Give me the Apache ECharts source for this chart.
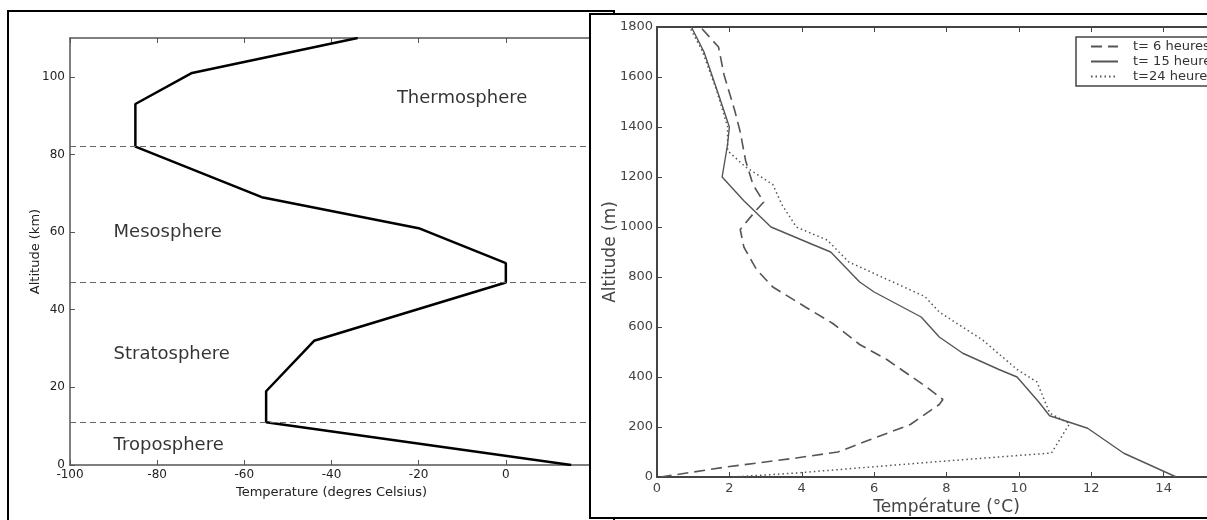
<!DOCTYPE html>
<html>
<head>
<meta charset="utf-8">
<title>Profils de température</title>
<script src="https://cdn.jsdelivr.net/npm/echarts@6/dist/echarts.min.js"></script>
<style>
  html, body { margin: 0; padding: 0; width: 1207px; height: 520px; overflow: hidden; background: #fff; }
  #leftBox { position: absolute; left: 7px; top: 10px; width: 604px; height: 540px; border: 2px solid #000; }
  #left { position: absolute; left: 0; top: 0; width: 600px; height: 520px; }
  #rightBox { position: absolute; left: 589px; top: 13px; width: 660px; height: 502px; border: 2px solid #000; background: #fff; z-index: 2; }
  #right { position: absolute; left: 0; top: 0; width: 660px; height: 502px; }
</style>
</head>
<body>
<div id="leftBox"></div>
<div id="left"></div>
<div id="rightBox"><div id="right"></div></div>
<script>
// --- profil standard de l'atmosphère (gauche)
const atmTemp = [15, -55, -55, -44, 0, 0, -20, -56, -85, -85, -72, -34];
const atmAlt = [0, 11, 19, 32, 47, 52, 61, 69, 82, 93, 101, 110];
const layerBounds = [11, 47, 82];
const layerNames = ["Troposphere", "Stratosphere", "Mesosphere", "Thermosphere"];
const layerLabelTemp = [-90, -90, -90, -25];
const layerLabelAlt = [5, 28.5, 60, 94.5];

// --- profils de la couche limite (droite)
const seriesNames = ["t= 6 heures", "t= 15 heures", "t=24 heures"];
const temp6h = [0.1, 1.9, 3.85, 5.0, 5.9, 7.0, 7.8, 7.9, 7.45, 6.35, 5.6, 4.85, 4.1, 3.2, 2.75, 2.4, 2.3, 2.7, 2.95, 2.65, 2.45, 2.3, 2.15, 1.85, 1.7, 1.2];
const alt6h = [0, 40, 76, 100, 150, 210, 290, 310, 360, 470, 530, 615, 680, 760, 830, 920, 990, 1060, 1100, 1170, 1265, 1380, 1465, 1610, 1720, 1800];
const temp15h = [14.35, 12.9, 11.9, 10.85, 10.55, 9.95, 9.45, 8.45, 7.8, 7.3, 6.0, 5.6, 4.8, 4.3, 3.15, 2.4, 1.8, 1.95, 2.0, 1.7, 1.3, 0.95];
const alt15h = [0, 95, 195, 245, 300, 400, 430, 495, 560, 640, 740, 780, 900, 930, 1000, 1105, 1200, 1330, 1400, 1530, 1700, 1800];
const temp24h = [2.1, 3.85, 7.8, 10.9, 11.4, 10.85, 10.5, 9.95, 9.0, 7.8, 7.4, 5.3, 4.7, 3.85, 3.45, 3.2, 2.45, 1.95, 1.95, 1.85, 1.65, 1.25, 0.9];
const alt24h = [0, 16, 62, 96, 213, 256, 380, 430, 548, 660, 722, 860, 948, 1000, 1090, 1170, 1240, 1305, 1400, 1450, 1545, 1705, 1800];

const FONT = "DejaVu Sans";
const pairs = (xs, ys) => xs.map((x, i) => [x, ys[i]]);

function frameAxis(color, width, extra) {
	return Object.assign({
		type: "value",
		nameMoveOverlap: false,
		splitLine: { show: false },
		axisLine: { show: true, onZero: false, lineStyle: { color: color, width: width } },
		axisTick: { show: true, inside: true, length: 5, lineStyle: { color: color, width: 1 } }
	}, extra);
}

// gauche
const left = echarts.init(document.getElementById("left"));
left.setOption({
	animation: false,
	grid: { left: 70, top: 38, width: 523, height: 427, outerBoundsMode: "none" },
	xAxis: [
		frameAxis("#555", 1.5, {
			min: -100, max: 20, interval: 20,
			name: "Temperature (degres Celsius)", nameLocation: "middle", nameGap: 21,
			nameTextStyle: { fontFamily: FONT, fontSize: 13, color: "#222" },
			axisLabel: { fontFamily: FONT, fontSize: 12, color: "#222", margin: 4, showMaxLabel: false }
		}),
		frameAxis("#555", 1.5, { position: "top", min: -100, max: 20, interval: 20, axisLabel: { show: false } })
	],
	yAxis: frameAxis("#555", 1.5, {
		min: 0, max: 110, interval: 20,
		name: "Altitude (km)", nameLocation: "middle", nameGap: 28,
		nameTextStyle: { fontFamily: FONT, fontSize: 13, color: "#222" },
		axisLabel: { fontFamily: FONT, fontSize: 12, color: "#222", margin: 5, showMaxLabel: false }
	}),
	series: [
		{
			type: "line",
			data: pairs(atmTemp, atmAlt),
			symbol: "none",
			lineStyle: { color: "#000", width: 2.5 },
			markLine: {
				silent: true,
				symbol: "none",
				label: { show: false },
				lineStyle: { color: "#666", width: 1, type: [6, 4] },
				data: layerBounds.map(v => ({ yAxis: v }))
			}
		},
		{
			type: "scatter",
			symbolSize: 0,
			data: layerNames.map((n, i) => ({ name: n, value: [layerLabelTemp[i], layerLabelAlt[i]] })),
			label: {
				show: true, position: "right", distance: 0,
				formatter: p => p.name,
				fontFamily: FONT, fontSize: 18, color: "#000"
			}
		}
	]
});

// droite
const right = echarts.init(document.getElementById("right"));
const lineColor = "#555";
right.setOption({
	animation: false,
	color: [lineColor, lineColor, lineColor],
	grid: { left: 66, top: 12, width: 579, height: 450, outerBoundsMode: "none" },
	legend: {
		orient: "vertical",
		left: 485, top: 22,
		itemWidth: 27, itemHeight: 12, itemGap: 2,
		padding: [3, 8, 3, 14],
		borderColor: "#444", borderWidth: 1.5,
		itemStyle: { color: "transparent", borderWidth: 0 },
		textStyle: { fontFamily: FONT, fontSize: 13, color: "#333", padding: [0, 0, 0, 10] },
		data: seriesNames
	},
	xAxis: [
		frameAxis("#444", 2, {
			min: 0, max: 16, interval: 2,
			name: "Température (°C)", nameLocation: "middle", nameGap: 22,
			nameTextStyle: { fontFamily: FONT, fontSize: 17, color: "#444" },
			axisLabel: { fontFamily: FONT, fontSize: 13, color: "#444", margin: 5 }
		}),
		frameAxis("#444", 2, { position: "top", min: 0, max: 16, interval: 2, axisLabel: { show: false } })
	],
	yAxis: frameAxis("#444", 2, {
		min: 0, max: 1800, interval: 200,
		name: "Altitude (m)", nameLocation: "middle", nameGap: 38,
		nameTextStyle: { fontFamily: FONT, fontSize: 17, color: "#444" },
		axisLabel: { fontFamily: FONT, fontSize: 13, color: "#444", margin: 4, formatter: v => String(v) }
	}),
	series: [
		{
			name: seriesNames[0], type: "line", symbol: "none",
			data: pairs(temp6h, alt6h),
			lineStyle: { color: lineColor, width: 1.6, type: [11, 6] }
		},
		{
			name: seriesNames[1], type: "line", symbol: "none",
			data: pairs(temp15h, alt15h),
			lineStyle: { color: lineColor, width: 1.4 }
		},
		{
			name: seriesNames[2], type: "line", symbol: "none",
			data: pairs(temp24h, alt24h),
			lineStyle: { color: lineColor, width: 1.5, type: [1.5, 3] }
		}
	]
});
</script>
</body>
</html>
